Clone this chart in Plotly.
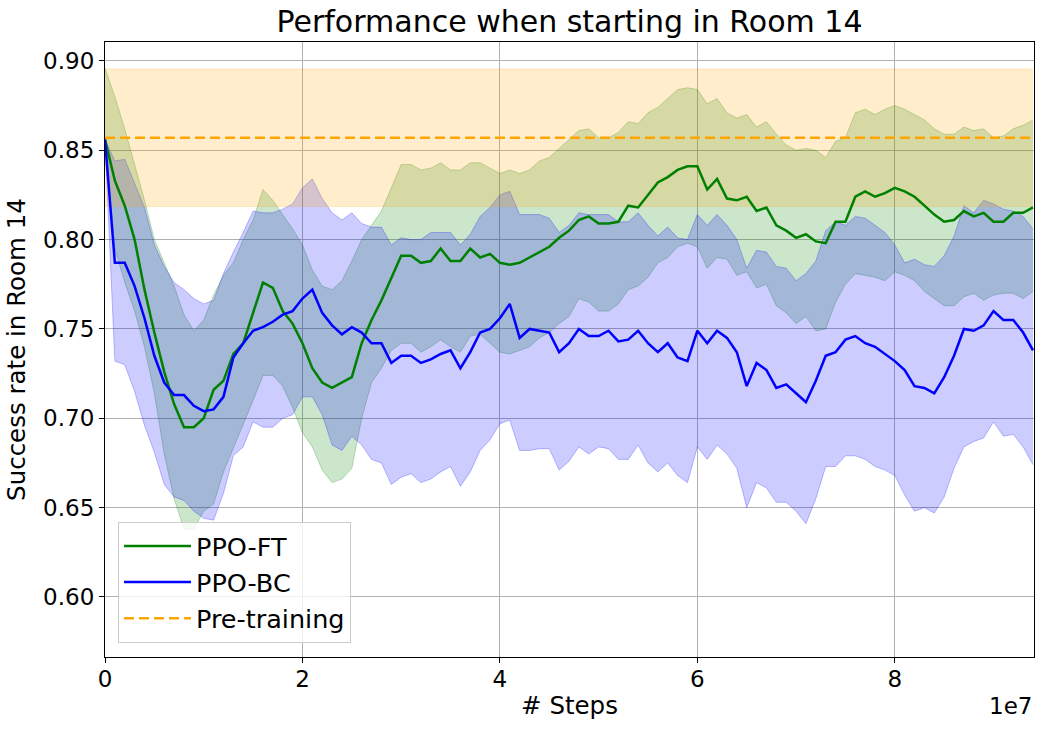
import plotly.graph_objects as go

# x positions in units of 1e6 steps (0 .. 94)
steps_1e6 = list(range(95))

ppo_ft_mean = [0.856, 0.833, 0.819, 0.800, 0.772, 0.748, 0.726, 0.708, 0.695, 0.695,
               0.700, 0.716, 0.721, 0.736, 0.742, 0.759, 0.776, 0.773, 0.760, 0.753,
               0.742, 0.728, 0.720, 0.717, 0.720, 0.723, 0.742, 0.755, 0.766, 0.778,
               0.791, 0.791, 0.787, 0.788, 0.795, 0.788, 0.788, 0.795, 0.790, 0.792,
               0.787, 0.786, 0.787, 0.790, 0.793, 0.796, 0.801, 0.805, 0.811, 0.813,
               0.809, 0.809, 0.810, 0.819, 0.818, 0.825, 0.832, 0.835, 0.839, 0.841,
               0.841, 0.828, 0.834, 0.823, 0.822, 0.824, 0.816, 0.818, 0.808, 0.805,
               0.801, 0.803, 0.799, 0.798, 0.810, 0.810, 0.824, 0.827, 0.824, 0.826,
               0.829, 0.827, 0.824, 0.819, 0.814, 0.810, 0.811, 0.816, 0.813, 0.815,
               0.810, 0.810, 0.815, 0.815, 0.818]

ppo_ft_hi = [0.896, 0.880, 0.862, 0.842, 0.822, 0.800, 0.787, 0.774, 0.758, 0.749,
             0.755, 0.769, 0.780, 0.787, 0.800, 0.811, 0.828, 0.822, 0.814, 0.806,
             0.797, 0.783, 0.774, 0.772, 0.777, 0.788, 0.800, 0.808, 0.816, 0.829,
             0.842, 0.842, 0.839, 0.840, 0.843, 0.839, 0.839, 0.843, 0.843, 0.840,
             0.837, 0.839, 0.837, 0.839, 0.844, 0.846, 0.851, 0.856, 0.861, 0.862,
             0.857, 0.857, 0.860, 0.866, 0.865, 0.871, 0.874, 0.879, 0.884, 0.885,
             0.884, 0.876, 0.879, 0.871, 0.868, 0.870, 0.863, 0.866, 0.859, 0.853,
             0.850, 0.851, 0.850, 0.846, 0.855, 0.857, 0.871, 0.873, 0.870, 0.873,
             0.875, 0.873, 0.870, 0.867, 0.862, 0.859, 0.859, 0.863, 0.861, 0.862,
             0.857, 0.858, 0.862, 0.864, 0.867]

ppo_ft_lo = [0.855, 0.795, 0.776, 0.760, 0.740, 0.714, 0.680, 0.655, 0.638, 0.638,
             0.648, 0.652, 0.670, 0.683, 0.697, 0.710, 0.724, 0.724, 0.718, 0.706,
             0.692, 0.684, 0.671, 0.664, 0.666, 0.672, 0.700, 0.720, 0.728, 0.738,
             0.742, 0.742, 0.737, 0.740, 0.744, 0.740, 0.737, 0.746, 0.747, 0.742,
             0.737, 0.736, 0.738, 0.740, 0.745, 0.748, 0.753, 0.757, 0.767, 0.765,
             0.760, 0.760, 0.764, 0.772, 0.774, 0.779, 0.787, 0.790, 0.796, 0.798,
             0.796, 0.784, 0.790, 0.789, 0.780, 0.782, 0.773, 0.775, 0.763, 0.759,
             0.753, 0.757, 0.749, 0.750, 0.765, 0.775, 0.781, 0.780, 0.779, 0.777,
             0.782, 0.780, 0.777, 0.771, 0.767, 0.763, 0.763, 0.768, 0.770, 0.766,
             0.769, 0.770, 0.770, 0.767, 0.771]

ppo_bc_mean = [0.856, 0.787, 0.787, 0.774, 0.756, 0.735, 0.720, 0.713, 0.713, 0.707,
               0.704, 0.705, 0.712, 0.734, 0.742, 0.749, 0.751, 0.754, 0.758, 0.760,
               0.767, 0.772, 0.759, 0.752, 0.747, 0.751, 0.748, 0.742, 0.742, 0.731,
               0.735, 0.735, 0.731, 0.733, 0.736, 0.738, 0.728, 0.737, 0.748, 0.750,
               0.756, 0.764, 0.745, 0.750, 0.749, 0.748, 0.737, 0.742, 0.750, 0.746,
               0.746, 0.749, 0.743, 0.744, 0.749, 0.742, 0.737, 0.742, 0.734, 0.732,
               0.749, 0.742, 0.749, 0.745, 0.737, 0.718, 0.731, 0.727, 0.717, 0.719,
               0.714, 0.709, 0.721, 0.735, 0.737, 0.744, 0.746, 0.742, 0.740, 0.736,
               0.732, 0.727, 0.718, 0.717, 0.714, 0.723, 0.735, 0.750, 0.749, 0.752,
               0.760, 0.755, 0.755, 0.748, 0.738]

ppo_bc_hi = [0.856, 0.844, 0.845, 0.831, 0.818, 0.797, 0.785, 0.776, 0.772, 0.767,
             0.764, 0.766, 0.781, 0.793, 0.804, 0.816, 0.815, 0.815, 0.817, 0.820,
             0.829, 0.834, 0.823, 0.815, 0.811, 0.815, 0.809, 0.807, 0.807, 0.797,
             0.801, 0.800, 0.800, 0.804, 0.804, 0.804, 0.797, 0.803, 0.813, 0.818,
             0.825, 0.827, 0.814, 0.814, 0.814, 0.812, 0.804, 0.808, 0.815, 0.814,
             0.814, 0.814, 0.810, 0.810, 0.815, 0.808, 0.802, 0.807, 0.801, 0.800,
             0.814, 0.808, 0.814, 0.808, 0.800, 0.784, 0.794, 0.793, 0.785, 0.784,
             0.777, 0.781, 0.788, 0.805, 0.810, 0.808, 0.813, 0.812, 0.808, 0.804,
             0.797, 0.787, 0.789, 0.786, 0.785, 0.791, 0.802, 0.819, 0.815, 0.822,
             0.820, 0.817, 0.816, 0.813, 0.806]

ppo_bc_lo = [0.855, 0.732, 0.730, 0.715, 0.696, 0.681, 0.663, 0.656, 0.654, 0.648,
             0.644, 0.643, 0.658, 0.679, 0.684, 0.698, 0.695, 0.695, 0.700, 0.702,
             0.712, 0.712, 0.702, 0.685, 0.682, 0.690, 0.685, 0.677, 0.675, 0.663,
             0.667, 0.669, 0.664, 0.666, 0.670, 0.673, 0.662, 0.670, 0.682, 0.688,
             0.697, 0.699, 0.682, 0.682, 0.683, 0.683, 0.671, 0.676, 0.684, 0.680,
             0.684, 0.683, 0.677, 0.677, 0.685, 0.675, 0.670, 0.675, 0.668, 0.664,
             0.684, 0.677, 0.685, 0.680, 0.672, 0.650, 0.664, 0.661, 0.653, 0.653,
             0.648, 0.641, 0.655, 0.673, 0.673, 0.679, 0.679, 0.677, 0.673, 0.671,
             0.668, 0.657, 0.648, 0.650, 0.647, 0.656, 0.672, 0.684, 0.687, 0.689,
             0.698, 0.690, 0.691, 0.684, 0.674]

pretrain_mean = 0.857
pretrain_lo = 0.8185
pretrain_hi = 0.8955

x_ticks = [0, 2, 4, 6, 8]
y_ticks = [0.60, 0.65, 0.70, 0.75, 0.80, 0.85, 0.90]

x = [s * 1e6 for s in steps_1e6]
x_end = x[-1]

FONT = "DejaVu Sans"
fig = go.Figure()

def band(lo, hi, rgb):
    fig.add_trace(go.Scatter(x=x, y=lo, mode="lines", showlegend=False, hoverinfo="skip",
                             line=dict(color=f"rgba({rgb},0.25)", width=1)))
    fig.add_trace(go.Scatter(x=x, y=hi, mode="lines", showlegend=False, hoverinfo="skip",
                             fill="tonexty", fillcolor=f"rgba({rgb},0.2)",
                             line=dict(color=f"rgba({rgb},0.25)", width=1)))

band(ppo_ft_lo, ppo_ft_hi, "0,128,0")
band(ppo_bc_lo, ppo_bc_hi, "0,0,255")

# pre-training band
fig.add_trace(go.Scatter(x=[0, x_end], y=[pretrain_lo, pretrain_lo], mode="lines",
                         showlegend=False, hoverinfo="skip",
                         line=dict(color="rgba(255,165,0,0.2)", width=1)))
fig.add_trace(go.Scatter(x=[0, x_end], y=[pretrain_hi, pretrain_hi], mode="lines",
                         showlegend=False, hoverinfo="skip", fill="tonexty",
                         fillcolor="rgba(255,165,0,0.2)",
                         line=dict(color="rgba(255,165,0,0.2)", width=1)))

fig.add_trace(go.Scatter(x=x, y=ppo_ft_mean, mode="lines", name="PPO-FT",
                         line=dict(color="#008000", width=2.5)))
fig.add_trace(go.Scatter(x=x, y=ppo_bc_mean, mode="lines", name="PPO-BC",
                         line=dict(color="#0000ff", width=2.5)))
fig.add_trace(go.Scatter(x=[0, x_end], y=[pretrain_mean, pretrain_mean], mode="lines",
                         name="Pre-training",
                         line=dict(color="#ffa500", width=2.5, dash="10px,5px")))

fig.update_layout(
    width=1045, height=730,
    margin=dict(l=105, r=11, t=42, b=73, autoexpand=False),
    paper_bgcolor="white", plot_bgcolor="white",
    font=dict(family=FONT, size=23, color="black"),
    title=dict(text="Performance when starting in Room 14", x=0.5, xref="paper",
               y=0.970, yref="container", yanchor="middle", xanchor="center",
               font=dict(size=30, family=FONT)),
    legend=dict(x=0.014, y=0.023, xanchor="left", yanchor="bottom", traceorder="normal",
                bgcolor="rgba(255,255,255,0.8)", bordercolor="#cccccc", borderwidth=1,
                font=dict(size=25.5, family=FONT), tracegroupgap=0, itemwidth=67),
    showlegend=True,
)

fig.update_xaxes(
    range=[0, 9.41e7], tickvals=[v * 1e7 for v in x_ticks], ticktext=[str(v) for v in x_ticks],
    showgrid=True, gridcolor="#b0b0b0", gridwidth=1, zeroline=False, automargin=False,
    showline=True, linecolor="black", linewidth=1.2, mirror=True,
    ticks="outside", ticklen=5, tickcolor="black", tickfont=dict(size=23),
    ticklabelstandoff=-4,
    title=dict(text="# Steps", font=dict(size=24.5), standoff=6),
)
fig.update_yaxes(
    range=[0.5664, 0.9106], tickvals=y_ticks, tickformat=".2f",
    showgrid=True, gridcolor="#b0b0b0", gridwidth=1, zeroline=False, automargin=False,
    showline=True, linecolor="black", linewidth=1.2, mirror=True,
    ticks="outside", ticklen=5, tickcolor="black", tickfont=dict(size=23),
    title=dict(text="Success rate in Room 14", font=dict(size=24.5), standoff=10),
)

fig.add_annotation(text="1e7", xref="paper", yref="paper", x=1.0, y=-0.08,
                   xanchor="right", yanchor="middle", showarrow=False,
                   font=dict(size=23, family=FONT))

fig.write_html("out.html", config={"displayModeBar": False},
               post_script="document.body.style.margin='0';document.body.style.overflow='hidden';")
